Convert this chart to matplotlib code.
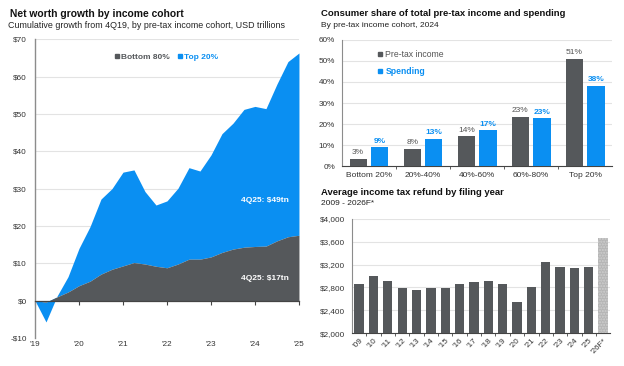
import matplotlib
matplotlib.use("Agg")
import matplotlib.pyplot as plt
import numpy as np
from matplotlib.lines import Line2D

plt.rcParams['font.family'] = ['Liberation Sans', 'DejaVu Sans']

# ---------------- data ----------------
# Left: cumulative net worth growth since 4Q19 (quarters 4Q19..4Q25), USD tn
quarters = np.arange(25)
year_ticks = [0, 4, 8, 12, 16, 20, 24]
year_labels = ["'19", "'20", "'21", "'22", "'23", "'24", "'25"]
bottom80 = [0.0, -0.4, 1.0, 2.3, 4.0, 5.2, 7.1, 8.4, 9.3, 10.2, 9.8, 9.2, 8.8,
            9.8, 11.1, 11.1, 11.7, 12.9, 13.8, 14.3, 14.5, 14.6, 16.0, 17.1, 17.5]
top20 = [0.0, -5.3, 0.2, 4.1, 10.0, 14.6, 20.1, 21.6, 25.1, 24.8, 19.4, 16.4, 17.9,
         20.3, 24.5, 23.6, 27.3, 31.8, 33.7, 36.9, 37.5, 36.8, 42.0, 46.9, 48.8]

# Top right: consumer share of pre-tax income and spending, 2024
cohorts = ["Bottom 20%", "20%-40%", "40%-60%", "60%-80%", "Top 20%"]
pretax_income = [3.4, 8.2, 14.3, 23.4, 51.0]
spending = [8.9, 12.9, 17.0, 22.8, 38.3]

# Bottom right: average income tax refund by filing year
refund_years = ["'09", "'10", "'11", "'12", "'13", "'14", "'15", "'16", "'17",
                "'18", "'19", "'20", "'21", "'22", "'23", "'24", "'25", "'26F*"]
refunds = [2852, 2998, 2911, 2794, 2748, 2783, 2794, 2852, 2893,
           2911, 2858, 2549, 2800, 3243, 3162, 3132, 3162, 3657]

DARK = '#55585b'
BLUE = '#0a8ff2'
GRID = '#e3e3e3'
TXT = '#333333'
SPINE = '#8c8c8c'

fig = plt.figure(figsize=(6.24, 3.66), dpi=100)

# ---------------- left chart ----------------
ax1 = fig.add_axes([0.0561, 0.0765, 0.423, 0.8165])
b = np.array(bottom80)
t = b + np.array(top20)
ax1.fill_between(quarters, 0, b, color=DARK, lw=0, zorder=3)
ax1.fill_between(quarters, b, t, color=BLUE, lw=0, zorder=2)
ax1.set_xlim(0, 24)
ax1.set_ylim(-10, 70)
ax1.set_yticks(range(-10, 71, 10))
ax1.set_yticklabels([f"-${-v}" if v < 0 else f"${v}" for v in range(-10, 71, 10)])
for v in range(10, 71, 10):
    ax1.axhline(v, color=GRID, lw=0.8, zorder=1)
for s in ['top', 'right']:
    ax1.spines[s].set_visible(False)
ax1.spines['left'].set_color(SPINE)
ax1.spines['left'].set_linewidth(1.0)
ax1.spines['bottom'].set_position(('data', 0))
ax1.spines['bottom'].set_color('#444444')
ax1.spines['bottom'].set_linewidth(0.9)
ax1.spines['bottom'].set_zorder(4)
ax1.set_xticks(year_ticks)
ax1.tick_params(axis='x', direction='out', length=3, color='#444444', labelbottom=False)
ax1.tick_params(axis='y', length=0, labelsize=5.9, labelcolor=TXT, pad=6)
sec = ax1.secondary_xaxis('bottom')
sec.set_xticks(year_ticks)
sec.set_xticklabels(year_labels)
sec.spines['bottom'].set_visible(False)
sec.tick_params(length=0, labelsize=5.9, labelcolor=TXT, pad=2.5)
h1 = [Line2D([], [], marker='s', ls='', color=DARK, markersize=3.2),
      Line2D([], [], marker='s', ls='', color=BLUE, markersize=3.2)]
leg1 = ax1.legend(h1, ['Bottom 80%', 'Top 20%'], ncol=2, loc='center',
                  bbox_to_anchor=(0.495, 0.94), frameon=False, fontsize=6,
                  handletextpad=0.1, columnspacing=0.8, handlelength=0.8)
for txt, c in zip(leg1.get_texts(), [DARK, BLUE]):
    txt.set_color(c)
    txt.set_fontweight('bold')
ax1.text(23.1, 26.7, '4Q25: $49tn', color='white', fontsize=6, fontweight='bold',
         ha='right', va='center', zorder=5)
ax1.text(23.1, 5.8, '4Q25: $17tn', color='white', fontsize=6, fontweight='bold',
         ha='right', va='center', zorder=5)
fig.text(0.016, 0.962, 'Net worth growth by income cohort', fontsize=7.4,
         fontweight='bold', color='#111111', va='center')
fig.text(0.013, 0.929, 'Cumulative growth from 4Q19, by pre-tax income cohort, USD trillions',
         fontsize=6.4, color='#222222', va='center')

# ---------------- top right chart ----------------
ax2 = fig.add_axes([0.548, 0.546, 0.433, 0.345])
x = np.arange(len(cohorts))
w = 0.32
ax2.bar(x - 0.2, pretax_income, width=w, color=DARK, zorder=3)
ax2.bar(x + 0.2, spending, width=w, color=BLUE, zorder=3)
for xi, v in zip(x, pretax_income):
    ax2.text(xi - 0.2, v + 1.2, f"{round(v)}%", ha='center', va='bottom',
             fontsize=6, color='#555555')
for xi, v in zip(x, spending):
    ax2.text(xi + 0.2, v + 1.2, f"{round(v)}%", ha='center', va='bottom',
             fontsize=6, color=BLUE, fontweight='bold')
ax2.set_xlim(-0.5, 4.5)
ax2.set_ylim(0, 60)
ax2.set_yticks(range(0, 61, 10))
ax2.set_yticklabels([f"{v}%" for v in range(0, 61, 10)])
for v in range(10, 61, 10):
    ax2.axhline(v, color=GRID, lw=0.8, zorder=1)
for s in ['top', 'right']:
    ax2.spines[s].set_visible(False)
ax2.spines['left'].set_color(SPINE)
ax2.spines['bottom'].set_color('#444444')
ax2.set_xticks(x)
ax2.set_xticklabels(cohorts)
ax2.set_xticks(np.arange(0.5, 4.5, 1), minor=True)
ax2.tick_params(axis='x', which='major', length=0, labelsize=6, labelcolor=TXT, pad=4)
ax2.tick_params(axis='x', which='minor', length=2.5, color='#444444', direction='out')
ax2.tick_params(axis='y', length=0, labelsize=5.9, labelcolor=TXT, pad=5)
h2 = [Line2D([], [], marker='s', ls='', color=DARK, markersize=3.2),
      Line2D([], [], marker='s', ls='', color=BLUE, markersize=3.2)]
leg2 = ax2.legend(h2, ['Pre-tax income', 'Spending'], loc='upper left',
                  bbox_to_anchor=(0.1, 0.985), frameon=False, fontsize=6.2,
                  handletextpad=0.2, handlelength=0.8, labelspacing=1.0)
for txt, c, fw in zip(leg2.get_texts(), ['#555555', BLUE], ['normal', 'bold']):
    txt.set_color(c)
    txt.set_fontweight(fw)
fig.text(0.514, 0.962, 'Consumer share of total pre-tax income and spending', fontsize=6.8,
         fontweight='bold', color='#111111', va='center')
fig.text(0.514, 0.929, 'By pre-tax income cohort, 2024', fontsize=6, color='#222222',
         va='center')

# ---------------- bottom right chart ----------------
ax3 = fig.add_axes([0.564, 0.090, 0.414, 0.312])
xr = np.arange(len(refund_years))
colors = [DARK] * (len(refunds) - 1) + ['#b5b5b5']
bars = ax3.bar(xr, refunds, width=0.65, color=colors, zorder=3)
bars[-1].set_hatch('......')
bars[-1].set_edgecolor('#cfcfcf')
bars[-1].set_linewidth(0)
ax3.set_xlim(-0.5, len(refunds) - 0.5)
ax3.set_ylim(2000, 4000)
yt = range(2000, 4001, 400)
ax3.set_yticks(list(yt))
ax3.set_yticklabels([f"${v:,}" for v in yt])
for v in list(yt)[1:]:
    ax3.axhline(v, color=GRID, lw=0.8, zorder=1)
for s in ['top', 'right']:
    ax3.spines[s].set_visible(False)
ax3.spines['left'].set_color(SPINE)
ax3.spines['bottom'].set_color('#444444')
ax3.set_xticks(xr)
ax3.set_xticklabels(refund_years, rotation=45, ha='right', rotation_mode='anchor')
ax3.set_xticks(np.arange(0.5, len(refunds) - 0.5, 1), minor=True)
ax3.tick_params(axis='x', which='major', length=0, labelsize=5.9, labelcolor=TXT, pad=3)
ax3.tick_params(axis='x', which='minor', length=2.5, color='#444444', direction='out')
ax3.tick_params(axis='y', length=0, labelsize=5.9, labelcolor=TXT, pad=5)
fig.text(0.514, 0.473, 'Average income tax refund by filing year', fontsize=6.8,
         fontweight='bold', color='#111111', va='center')
fig.text(0.514, 0.443, '2009 - 2026F*', fontsize=6, color='#222222', va='center')

fig.savefig('out.png', dpi=100)
